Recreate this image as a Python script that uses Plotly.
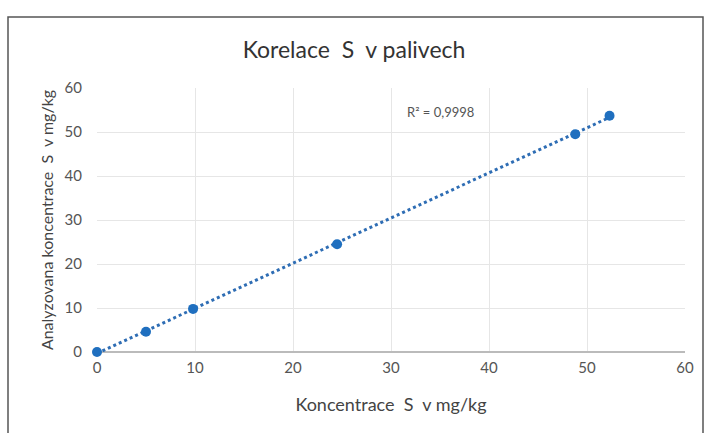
import numpy as np
import plotly.graph_objects as go

x_conc = [0, 5, 9.8, 24.5, 48.8, 52.3]
y_anal = [0, 4.6, 9.8, 24.5, 49.5, 53.7]
x_ticks = [0, 10, 20, 30, 40, 50, 60]
y_ticks = [0, 10, 20, 30, 40, 50, 60]

slope, intercept = np.polyfit(x_conc, y_anal, 1)
xt = np.array([min(x_conc), max(x_conc)])
yt = slope * xt + intercept

fig = go.Figure()
fig.add_trace(go.Scatter(x=xt, y=yt, mode="lines",
                         line=dict(color="#2E6DB4", width=3, dash="dot"),
                         showlegend=False, hoverinfo="skip", cliponaxis=False))
fig.add_trace(go.Scatter(x=x_conc, y=y_anal, mode="markers",
                         marker=dict(color="#1F6FBF", size=10),
                         showlegend=False, cliponaxis=False))

W, H = 707, 433
ml, mr, mt, mb = 97, 22, 88, 81
pw, ph = W - ml - mr, H - mt - mb

def px(xp):
    return (xp - ml) / pw

def py(yp):
    return (H - mb - yp) / ph

fig.add_shape(type="rect", xref="paper", yref="paper",
              x0=px(8), x1=px(703), y0=py(440), y1=py(17),
              line=dict(color="#555555", width=1.5), fillcolor="rgba(0,0,0,0)", layer="below")

fig.add_annotation(x=35, y=54.5, text="R² = 0,9998", showarrow=False,
                   font=dict(size=13, color="#555555", family="Lato"))

fig.update_layout(
    width=W, height=H,
    margin=dict(l=ml, r=mr, t=mt, b=mb),
    paper_bgcolor="white", plot_bgcolor="white",
    title=dict(text="Korelace  S  v palivech", x=354 / W, xref="container", xanchor="center",
               y=1 - 50 / H, yanchor="middle",
               font=dict(size=23, color="#333333", family="Lato")),
    font=dict(family="Lato", color="#555555"),
)
fig.update_xaxes(range=[0, 60], tickvals=x_ticks, showgrid=True, gridcolor="#E6E6E6",
                 zeroline=False, showline=False, ticks="", automargin=False,
                 ticklabelstandoff=5,
                 tickfont=dict(size=15, color="#555555"),
                 title=dict(text="Koncentrace  S  v mg/kg", font=dict(size=18, color="#444444"), standoff=23))
fig.update_yaxes(range=[0, 60], tickvals=y_ticks, showgrid=True, gridcolor="#E6E6E6",
                 zeroline=True, zerolinecolor="#BBBBBB", showline=False, ticks="", automargin=False,
                 ticklabelstandoff=14,
                 tickfont=dict(size=15, color="#555555"),
                 title=dict(text="Analyzovana koncentrace  S  v mg/kg", font=dict(size=16, color="#444444"), standoff=6))

fig.write_html("out.html", config={"displayModeBar": False},
               post_script="document.body.style.margin='0';document.body.style.overflow='hidden';")
